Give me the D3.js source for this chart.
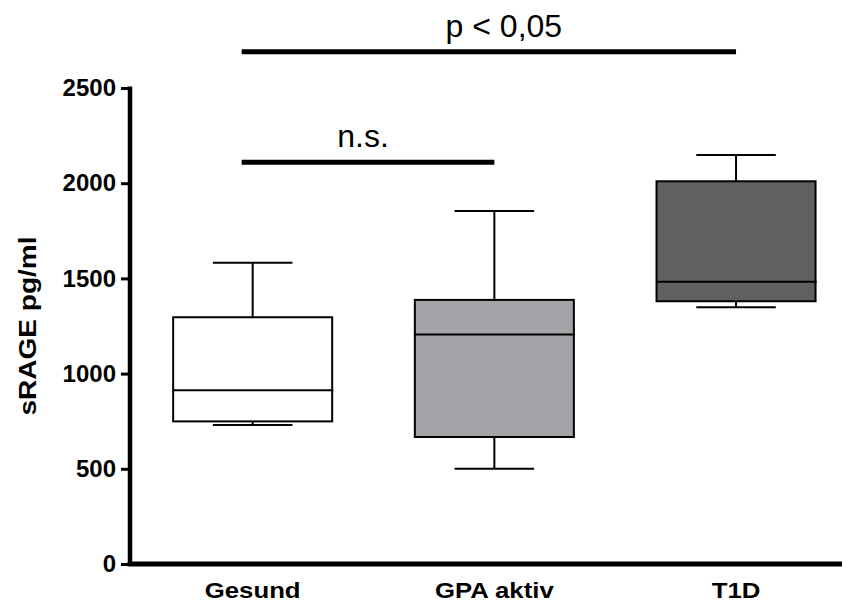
<!DOCTYPE html>
<html>
<head>
<meta charset="utf-8">
<script src="https://cdn.jsdelivr.net/npm/d3@7"></script>
<style>
    body { margin: 0; background: #fff; }
    svg { display: block; }
    text { font-family: 'Liberation Sans', Arial, sans-serif; fill: #000; }
</style>
</head>
<body>
<script>
// groups and five-number summaries (pg/ml)
const groups = ['Gesund', 'GPA aktiv', 'T1D'];
const whiskerLow = [730, 500, 1348];
const q1 = [749, 667, 1380];
const median = [912, 1206, 1483];
const q3 = [1296, 1387, 2010];
const whiskerHigh = [1582, 1854, 2148];
const fills = ['#ffffff', '#a4a3a8', '#616161'];

const yTicks = [0, 500, 1000, 1500, 2000, 2500];
const yLabel = 'sRAGE pg/ml';

// significance bars, level in data units
const bracketFrom = ['Gesund', 'Gesund'];
const bracketTo = ['T1D', 'GPA aktiv'];
const bracketLevel = [2690, 2110];
const bracketLabel = ['p < 0,05', 'n.s.'];

const box = {
    'width': 845,
    'height': 603,
    'left': 130,
    'right': 842,
    'top': 88,
    'bottom': 564
};

const svg = d3.select('body')
    .append('svg')
    .attr('width', box.width)
    .attr('height', box.height);

// escalas
const x = d3.scaleBand()
    .domain(groups)
    .range([box.left, box.right])
    .paddingInner(0.342)
    .paddingOuter(0.144)
    .align(0.62);

const y = d3.scaleLinear()
    .domain([0, 2500])
    .range([box.bottom, box.top]);

const bw = x.bandwidth();
const cx = g => x(g) + bw / 2;

// cajas
const rows = groups.map((g, i) => ({
    g: g, lo: whiskerLow[i], q1: q1[i], med: median[i], q3: q3[i], hi: whiskerHigh[i], fill: fills[i]
}));

const boxes = svg.append('g')
    .selectAll('g')
    .data(rows)
    .enter()
    .append('g');

// whiskers
boxes.append('line')
    .attr('x1', d => cx(d.g)).attr('x2', d => cx(d.g))
    .attr('y1', d => y(d.hi)).attr('y2', d => y(d.q3))
    .attr('stroke', '#000').attr('stroke-width', 2);
boxes.append('line')
    .attr('x1', d => cx(d.g)).attr('x2', d => cx(d.g))
    .attr('y1', d => y(d.q1)).attr('y2', d => y(d.lo))
    .attr('stroke', '#000').attr('stroke-width', 2);
boxes.append('line')
    .attr('x1', d => cx(d.g) - bw / 4).attr('x2', d => cx(d.g) + bw / 4)
    .attr('y1', d => y(d.hi)).attr('y2', d => y(d.hi))
    .attr('stroke', '#000').attr('stroke-width', 2);
boxes.append('line')
    .attr('x1', d => cx(d.g) - bw / 4).attr('x2', d => cx(d.g) + bw / 4)
    .attr('y1', d => y(d.lo)).attr('y2', d => y(d.lo))
    .attr('stroke', '#000').attr('stroke-width', 2);

boxes.append('rect')
    .attr('x', d => x(d.g))
    .attr('y', d => y(d.q3))
    .attr('width', bw)
    .attr('height', d => y(d.q1) - y(d.q3))
    .attr('fill', d => d.fill)
    .attr('stroke', '#000')
    .attr('stroke-width', 2);

boxes.append('line')
    .attr('x1', d => x(d.g)).attr('x2', d => x(d.g) + bw + 1)
    .attr('y1', d => y(d.med)).attr('y2', d => y(d.med))
    .attr('stroke', '#000').attr('stroke-width', 2);

// ejes
const yAxis = d3.axisLeft(y)
    .tickValues(yTicks)
    .tickSize(9)
    .tickSizeOuter(0)
    .tickPadding(5)
    .tickFormat(d3.format('d'));

const gy = svg.append('g')
    .attr('transform', 'translate(' + box.left + ',0)')
    .call(yAxis);
gy.select('.domain').remove();
gy.selectAll('.tick line').attr('stroke', '#000').attr('stroke-width', 3);
gy.selectAll('.tick text')
    .attr('font-size', 24)
    .attr('font-weight', 'bold')
    .style('font-family', "'Liberation Sans', Arial, sans-serif");

gy.append('line')
    .attr('x1', 0).attr('x2', 0)
    .attr('y1', y(2500) - 1.5).attr('y2', box.bottom)
    .attr('stroke', '#000').attr('stroke-width', 4.5);

const xAxis = d3.axisBottom(x)
    .tickSize(0)
    .tickPadding(18);

const gx = svg.append('g')
    .attr('transform', 'translate(0,' + box.bottom + ')')
    .call(xAxis);
gx.select('.domain').remove();
gx.selectAll('.tick text')
    .attr('font-size', 23)
    .attr('font-weight', 'bold')
    .attr('transform', 'scale(1.12,1)')
    .style('font-family', "'Liberation Sans', Arial, sans-serif");

gx.append('line')
    .attr('x1', box.left - 2.25).attr('x2', box.right)
    .attr('y1', 0).attr('y2', 0)
    .attr('stroke', '#000').attr('stroke-width', 5);

// titulo del eje y
svg.append('text')
    .attr('transform', 'translate(36,' + (box.top + box.bottom) / 2 + ') rotate(-90) scale(1.22,1)')
    .attr('text-anchor', 'middle')
    .attr('font-size', 23)
    .attr('font-weight', 'bold')
    .text(yLabel);

// barras de significancia
const labelShift = [15, -5];
const brackets = svg.append('g');
bracketLabel.forEach((label, i) => {
    const x1 = cx(bracketFrom[i]) - 11;
    const x2 = cx(bracketTo[i]);
    const yy = y(bracketLevel[i]);
    brackets.append('line')
        .attr('x1', x1).attr('x2', x2)
        .attr('y1', yy).attr('y2', yy)
        .attr('stroke', '#000').attr('stroke-width', 5);
    brackets.append('text')
        .attr('x', (x1 + x2) / 2 + labelShift[i])
        .attr('y', yy - 15)
        .attr('text-anchor', 'middle')
        .attr('font-size', 32)
        .text(label);
});
</script>
</body>
</html>
